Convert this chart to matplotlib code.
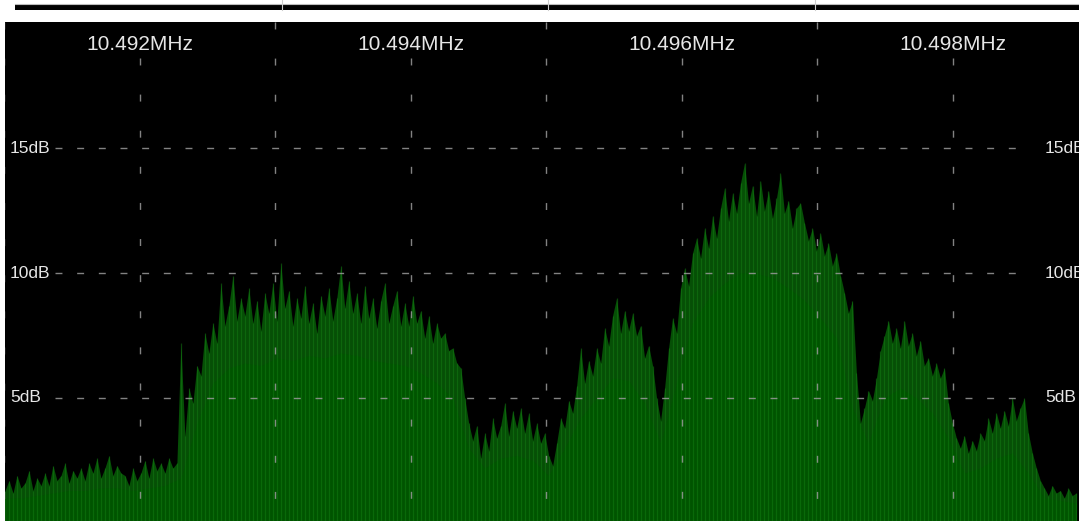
import numpy as np
import matplotlib
matplotlib.use("Agg")
import matplotlib.pyplot as plt
from matplotlib.patches import Rectangle
from matplotlib.lines import Line2D

plt.rcParams['font.family'] = ['Liberation Sans', 'DejaVu Sans']

# ---- spectrum data (dB) ----
bin_start = 10.491004   # MHz, first bin
bin_step = 0.0000295    # MHz per bin

# spike tops, one value per bin
peak_db = [
    1.3, 1.7, 1.2, 1.9, 1.4, 1.6, 2.1, 1.3, 1.8, 1.5,
    2.0, 1.5, 2.3, 1.7, 1.9, 2.4, 1.6, 2.1, 1.8, 2.2,
    1.7, 2.4, 2.0, 2.6, 1.8, 2.2, 2.7, 1.9, 2.3, 2.0,
    1.9, 1.5, 2.2, 1.7, 2.0, 2.5, 1.8, 2.6, 2.1, 2.4,
    2.0, 2.6, 2.2, 2.4, 7.2, 3.5, 5.4, 4.8, 6.3, 5.9,
    7.6, 6.8, 8.0, 7.2, 9.6, 7.9, 8.7, 9.9, 8.1, 9.0,
    8.3, 9.4, 8.0, 8.9, 7.7, 9.2, 8.4, 9.6, 8.1, 10.4,
    8.6, 9.3, 7.9, 9.0, 8.2, 9.5, 8.0, 8.8, 7.6, 9.1,
    8.3, 9.4, 8.1, 9.0, 10.3, 8.6, 9.7, 8.4, 9.2, 8.0,
    9.5, 8.2, 9.0, 7.8, 8.9, 9.6, 8.0, 8.7, 9.3, 7.9,
    8.8, 7.9, 9.1, 8.0, 8.5, 7.4, 8.3, 7.2, 8.0, 7.4,
    7.6, 6.9, 7.0, 6.4, 6.2, 5.0, 4.0, 3.3, 3.9, 2.6,
    3.6, 2.9, 4.2, 3.4, 3.9, 4.8, 3.5, 4.5, 3.8, 4.6,
    3.6, 4.4, 3.3, 4.0, 3.2, 3.6, 2.7, 2.3, 3.2, 4.2,
    3.8, 4.9, 4.4, 5.5, 7.0, 5.6, 6.5, 5.9, 7.0, 6.4,
    7.8, 7.1, 8.3, 9.0, 7.6, 8.5, 7.7, 8.4, 7.5, 7.9,
    6.6, 7.1, 6.3, 5.0, 4.1, 5.4, 7.0, 8.2, 7.6, 9.4,
    10.2, 9.5, 10.8, 11.4, 10.6, 11.8, 11.0, 12.3, 11.4, 12.6,
    13.4, 12.1, 13.2, 12.4, 13.6, 14.4, 12.8, 13.5, 12.3, 13.7,
    12.5, 13.3, 12.2, 13.0, 14.0, 12.4, 12.9, 11.8, 12.6, 12.8,
    12.0, 11.3, 11.8, 10.9, 11.6, 10.7, 11.2, 10.3, 10.8, 9.9,
    9.2, 8.4, 8.9, 6.0, 4.0, 4.6, 5.3, 4.9, 5.8, 6.9,
    7.5, 8.1, 7.2, 7.8, 7.0, 8.1, 7.1, 7.6, 6.7, 7.3,
    6.3, 6.6, 5.9, 6.4, 5.8, 6.2, 4.8, 4.0, 3.4, 3.0,
    3.5, 2.8, 3.3, 2.9, 3.6, 3.3, 4.2, 3.6, 4.4, 3.8,
    4.5, 3.9, 5.0, 4.1, 4.6, 5.0, 3.6, 2.8, 2.2, 1.7,
    1.4, 1.1, 1.5, 1.2, 1.3, 1.0, 1.4, 1.1, 1.2,
]

# dense lower part of the trace, one value every 4 bins
body_db = [
    1.0, 1.0, 1.1, 1.2, 1.3, 1.3, 1.4, 1.4, 1.3, 1.4,
    1.5, 1.8, 4.0, 5.6, 6.2, 6.4, 6.3, 6.6, 6.5, 6.7,
    6.6, 6.8, 6.7, 6.5, 6.4, 6.3, 6.0, 5.6, 5.0, 3.0,
    2.2, 2.6, 2.7, 2.5, 1.9, 3.0, 4.2, 5.0, 5.8, 5.7,
    4.8, 3.2, 5.6, 8.0, 9.0, 9.6, 10.0, 10.0, 9.8, 9.4,
    8.9, 8.2, 7.4, 4.6, 3.2, 5.0, 5.4, 5.0, 4.4, 3.4,
    2.0, 2.2, 2.6, 2.8, 2.0, 1.0, 0.9, 0.8,
]

freq_ticks = [10.492, 10.494, 10.496, 10.498]
freq_labels = ['10.492MHz', '10.494MHz', '10.496MHz', '10.498MHz']
major_lines = [10.491, 10.493, 10.495, 10.497]
db_ticks = [5, 10, 15]
db_labels = ['5dB', '10dB', '15dB']

freq = bin_start + bin_step * np.arange(len(peak_db))
freq_body = bin_start + 4 * bin_step * np.arange(len(body_db))

W, H = 1079, 521
fig = plt.figure(figsize=(W / 100, H / 100), dpi=100)
fig.patch.set_facecolor('white')

# top overview strip
fig.add_artist(Rectangle((15 / W, 1 - 10 / H), 1 - 15 / W, 6 / H,
                         transform=fig.transFigure, color='black', lw=0))
fig.add_artist(Line2D([15 / W, 1], [1 - 4 / H, 1 - 4 / H],
                      transform=fig.transFigure, color='#bbbbbb', lw=0.8))
for px in [282, 548, 815]:
    fig.add_artist(Line2D([px / W, px / W], [1, 1 - 10 / H],
                          transform=fig.transFigure, color='#cccccc', lw=0.8))

ax = fig.add_axes([5 / W, 0, (W - 5) / W, (H - 22) / H])
ax.set_facecolor('black')
ax.set_xlim(10.491004, 10.498930)
ax.set_ylim(0.08, 20.04)
for s in ax.spines.values():
    s.set_visible(False)
ax.set_xticks([])
ax.set_yticks([])

# spectrum
ax.fill_between(freq, 0, peak_db, color='#064f06', lw=0, zorder=2)
ax.fill_between(freq_body, 0, body_db, color='#005400', lw=0, zorder=3)
ax.vlines(freq, 0, peak_db, color='#168416', lw=0.9, alpha=0.45, zorder=3.5)

# grid
for f in major_lines:
    ax.plot([f, f], [20.04, 0.08], color='#9a9a9a', lw=1.0, dashes=(5, 21),
            alpha=0.85, zorder=4)
for f in freq_ticks:
    ax.plot([f, f], [18.6, 0.08], color='#9a9a9a', lw=1.0, dashes=(5, 21),
            alpha=0.85, zorder=4)
for d in db_ticks:
    ax.axhline(d, xmin=50 / 1074, xmax=1022 / 1074, color='#9a9a9a', lw=1.0,
               dashes=(5, 10.6), alpha=0.85, zorder=4)

# labels
for f, lab in zip(freq_ticks, freq_labels):
    ax.text(f, 19.15, lab, color='#e6e6e6', fontsize=15, ha='center', va='center')
for d, lab in zip(db_ticks, db_labels):
    ax.text(5 / 1074, d, lab, color='#e6e6e6', fontsize=12.5, ha='left',
            va='center', transform=ax.get_yaxis_transform())
    ax.text(1040 / 1074, d, lab, color='#e6e6e6', fontsize=12.5, ha='left',
            va='center', transform=ax.get_yaxis_transform(), clip_on=False)

fig.savefig('out.png', dpi=100, facecolor=fig.get_facecolor())
